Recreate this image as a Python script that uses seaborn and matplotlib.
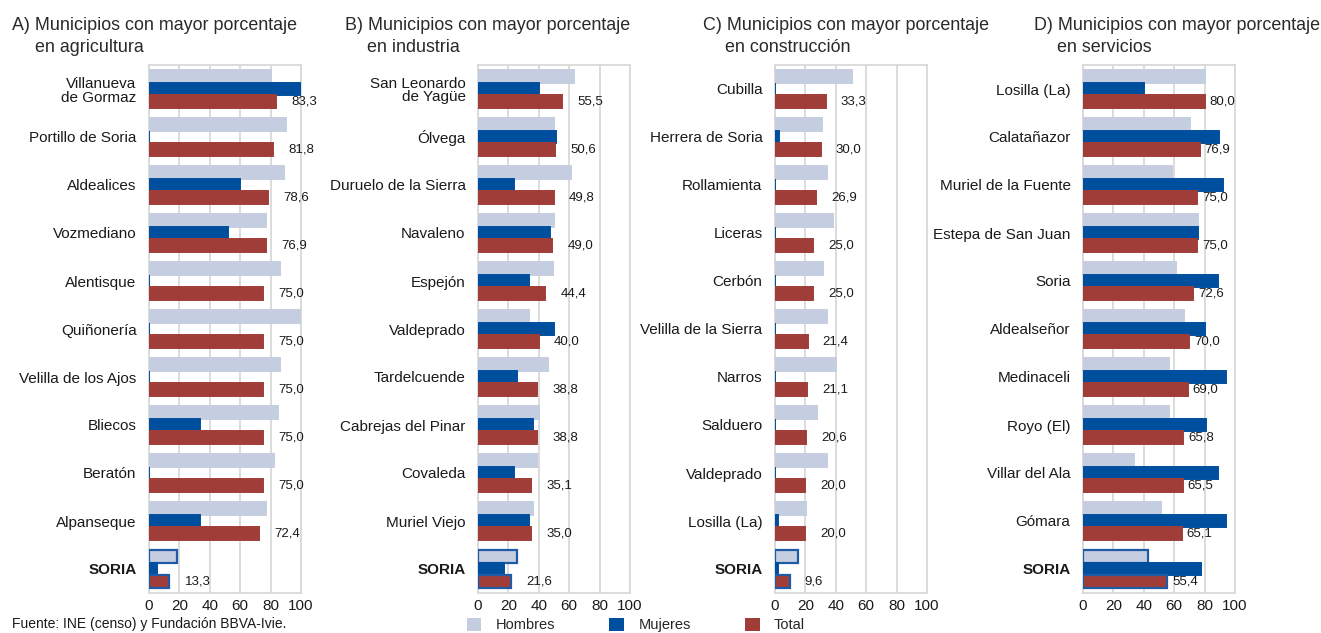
#!/usr/bin/env python3
"""
Municipios de Soria con mayor porcentaje de ocupados por sector
(agricultura, industria, construcción, servicios), por sexo.
"""

import matplotlib
matplotlib.use("Agg")
import matplotlib.pyplot as plt
import pandas as pd
import seaborn as sns

# --- Datos ---
series = ["Hombres", "Mujeres", "Total"]
colores = ["#c5cde0", "#004f9e", "#a03d38"]

titulos = [
    ("A) Municipios con mayor porcentaje", "en agricultura"),
    ("B) Municipios con mayor porcentaje", "en industria"),
    ("C) Municipios con mayor porcentaje", "en construcción"),
    ("D) Municipios con mayor porcentaje", "en servicios"),
]

# A) agricultura
municipios_a = ["Villanueva\nde Gormaz", "Portillo de Soria", "Aldealices", "Vozmediano",
                "Alentisque", "Quiñonería", "Velilla de los Ajos", "Bliecos", "Beratón",
                "Alpanseque", "SORIA"]
hombres_a = [80.0, 90.0, 89.0, 77.0, 86.0, 100.0, 86.0, 85.0, 82.0, 77.0, 18.4]
mujeres_a = [100.0, 0.0, 60.0, 52.0, 0.0, 0.0, 0.0, 33.3, 0.0, 33.3, 5.3]
total_a = [83.3, 81.8, 78.6, 76.9, 75.0, 75.0, 75.0, 75.0, 75.0, 72.4, 13.3]

# B) industria
municipios_b = ["San Leonardo\nde Yagüe", "Ólvega", "Duruelo de la Sierra", "Navaleno",
                "Espejón", "Valdeprado", "Tardelcuende", "Cabrejas del Pinar", "Covaleda",
                "Muriel Viejo", "SORIA"]
hombres_b = [63.4, 50.2, 61.2, 49.7, 49.3, 33.5, 46.0, 40.1, 38.8, 35.9, 25.4]
mujeres_b = [40.3, 51.1, 24.0, 47.2, 33.5, 50.2, 25.4, 35.9, 23.4, 33.5, 16.8]
total_b = [55.5, 50.6, 49.8, 49.0, 44.4, 40.0, 38.8, 38.8, 35.1, 35.0, 21.6]

# C) construcción
municipios_c = ["Cubilla", "Herrera de Soria", "Rollamienta", "Liceras", "Cerbón",
                "Velilla de la Sierra", "Narros", "Salduero", "Valdeprado", "Losilla (La)",
                "SORIA"]
hombres_c = [50.4, 30.7, 34.0, 38.2, 31.4, 34.0, 40.4, 27.6, 34.0, 20.6, 14.9]
mujeres_c = [0.0, 2.6, 0.0, 0.0, 0.0, 0.0, 0.0, 0.0, 0.0, 1.8, 2.2]
total_c = [33.3, 30.0, 26.9, 25.0, 25.0, 21.4, 21.1, 20.6, 20.0, 20.0, 9.6]

# D) servicios
municipios_d = ["Losilla (La)", "Calatañazor", "Muriel de la Fuente", "Estepa de San Juan",
                "Soria", "Aldealseñor", "Medinaceli", "Royo (El)", "Villar del Ala", "Gómara",
                "SORIA"]
hombres_d = [80.5, 70.7, 58.5, 75.4, 61.0, 66.7, 56.8, 56.3, 33.3, 51.2, 42.8]
mujeres_d = [40.1, 89.4, 92.0, 75.4, 88.5, 80.2, 94.0, 80.7, 88.5, 93.8, 77.8]
total_d = [80.0, 76.9, 75.0, 75.0, 72.6, 70.0, 69.0, 65.8, 65.5, 65.1, 55.4]

x_ticks = [0, 20, 40, 60, 80, 100]


def build_panel_df(municipios, hombres, mujeres, total):
    """Pasa los datos de un panel a formato largo para seaborn"""
    df = pd.DataFrame({"Municipio": municipios, "Hombres": hombres,
                       "Mujeres": mujeres, "Total": total})
    return df.melt(id_vars="Municipio", var_name="Serie", value_name="Valor")


def draw_panel(ax, municipios, df, label_pad):
    """Dibuja un panel de barras horizontales agrupadas"""
    sns.barplot(data=df, x="Valor", y="Municipio", hue="Serie", order=municipios,
                hue_order=series, palette=colores, orient="h", width=0.78,
                saturation=1, legend=False, ax=ax)

    # borde del mismo color (las barras en 0 quedan como una línea fina)
    for cont in ax.containers:
        for bar in cont:
            bar.set_edgecolor(bar.get_facecolor())
            bar.set_linewidth(1.4)
            bar.set_zorder(3)

    # SORIA con contorno azul
    for idx in (0, 2):
        bar = ax.containers[idx][-1]
        bar.set_edgecolor("#1f5aa6")
        bar.set_linewidth(1.6)

    # etiquetas del total con coma decimal
    total_vals = df[df["Serie"] == "Total"]["Valor"].tolist()
    labels = [f"{v:.1f}".replace(".", ",") for v in total_vals]
    ax.bar_label(ax.containers[2], labels=labels, padding=label_pad,
                 fontsize=9.5, color="#1a1a1a")

    ax.set_xlim(0, 100)
    ax.set_xticks(x_ticks)
    ax.set_xlabel("")
    ax.set_ylabel("")
    ax.xaxis.grid(True, color="#d9d9d9", linewidth=1.3)
    ax.yaxis.grid(False)
    ax.set_axisbelow(True)
    for sp in ax.spines.values():
        sp.set_visible(True)
        sp.set_color("#d9d9d9")
        sp.set_linewidth(1.3)
    ax.tick_params(axis="x", length=0, pad=4, labelsize=11, labelcolor="#1a1a1a")
    ax.tick_params(axis="y", length=0, pad=9, labelsize=11, labelcolor="#1a1a1a")
    for t in ax.get_yticklabels():
        t.set_linespacing(1.0)
    ax.get_yticklabels()[-1].set_fontweight("bold")


def main():
    sns.set_style("white")
    plt.rcParams["font.family"] = ["Liberation Sans", "DejaVu Sans"]

    W, H = 1321, 633
    fig = plt.figure(figsize=(W / 100, H / 100), dpi=100)

    paneles = [
        (municipios_a, hombres_a, mujeres_a, total_a),
        (municipios_b, hombres_b, mujeres_b, total_b),
        (municipios_c, hombres_c, mujeres_c, total_c),
        (municipios_d, hombres_d, mujeres_d, total_d),
    ]
    # posiciones en píxeles: borde izquierdo del eje, inicio del título, sangría
    ejes_x = [149, 478, 775, 1083]
    titulo_x = [12, 345, 703, 1034]
    sangria = [23, 22, 22, 23]
    pads = [11, 11, 11, 3.5]
    top, bottom = 65, 593

    for i, (mun, h, m, t) in enumerate(paneles):
        ax = fig.add_axes([ejes_x[i] / W, 1 - bottom / H, 152 / W, (bottom - top) / H])
        df = build_panel_df(mun, h, m, t)
        draw_panel(ax, mun, df, pads[i])

        l1, l2 = titulos[i]
        fig.text(titulo_x[i] / W, 1 - 25 / H, l1, fontsize=12.9, color="#2a2a2a", va="center")
        fig.text((titulo_x[i] + sangria[i]) / W, 1 - 47 / H, l2, fontsize=12.9,
                 color="#2a2a2a", va="center")

    # leyenda común
    handles = [plt.Rectangle((0, 0), 1, 1, facecolor=c, edgecolor="none") for c in colores]
    fig.legend(handles, series, loc="center", bbox_to_anchor=(636 / W, 1 - 625 / H),
               ncol=3, frameon=False, fontsize=10.5, handlelength=1.0, handleheight=1.0,
               handletextpad=1.0, columnspacing=3.7, borderpad=0, borderaxespad=0)

    # fuente, al pie
    fig.text(12 / W, 2 / H, "Fuente: INE (censo) y Fundación BBVA-Ivie.",
             fontsize=10, color="#1a1a1a", va="bottom")

    fig.savefig("out.png", dpi=100)


if __name__ == "__main__":
    main()
